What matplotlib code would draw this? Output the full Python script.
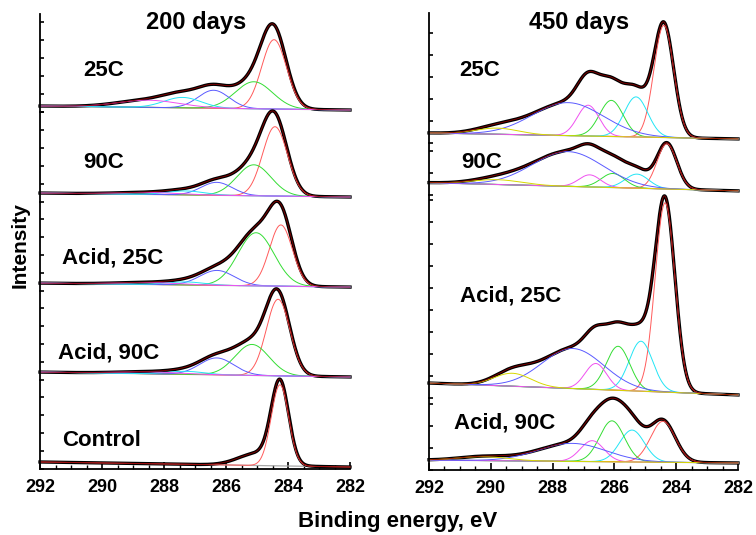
import numpy as np
import matplotlib.pyplot as plt
from matplotlib.ticker import MultipleLocator

plt.rcParams['font.family'] = ['Liberation Sans', 'DejaVu Sans']
plt.rcParams['font.weight'] = 'bold'

W, H = 756, 535
energy = np.linspace(292, 282, 801)

colors = {'r': '#ff5a5a', 'g': '#33dd33', 'b': '#5a5aff', 'c': '#22e5f5',
          'm': '#f050f0', 'y': '#d8d800'}

# 200 days (left), intensities in tick units
left_names = ['25C', '90C', 'Acid, 25C', 'Acid, 90C', 'Control']
left_ytop = [5.44, 5.0, 4.94, 4.94, 4.94]
left_bg = [(0.33, 0.11), (0.50, 0.28), (0.44, 0.22), (0.44, 0.17), (0.39, 0.11)]
left_peaks = [
    [('r', 284.45, 3.85, 0.40), ('g', 285.10, 1.50, 0.60), ('b', 286.40, 1.00, 0.50),
     ('c', 287.40, 0.58, 0.60), ('m', 288.50, 0.40, 1.00)],
    [('r', 284.42, 3.85, 0.40), ('g', 285.10, 1.72, 0.55), ('b', 286.30, 0.72, 0.50),
     ('c', 287.30, 0.22, 0.60), ('m', 288.50, 0.11, 1.00)],
    [('r', 284.23, 3.40, 0.37), ('g', 285.03, 2.95, 0.58), ('b', 286.29, 0.83, 0.55),
     ('c', 287.30, 0.17, 0.60), ('m', 288.50, 0.11, 1.00)],
    [('r', 284.32, 4.25, 0.38), ('g', 285.16, 1.72, 0.55), ('b', 286.30, 0.94, 0.55),
     ('c', 287.30, 0.17, 0.60), ('m', 288.50, 0.11, 1.00)],
    [('r', 284.26, 4.50, 0.28), (None, 285.00, 0.67, 0.60)],
]
left_label_pos = [(83, 70), (83, 163), (62, 258), (58, 353), (62, 441)]

# 450 days (right)
right_names = ['25C', '90C', 'Acid, 25C', 'Acid, 90C']
right_ytop = [5.9, 2.36, 9.23, 3.27]
right_bg = [(0.45, 0.18), (0.55, 0.18), (0.68, 0.14), (0.45, 0.32)]
right_peaks = [
    [('r', 284.40, 5.10, 0.32), ('c', 285.30, 1.82, 0.38), ('g', 286.10, 1.64, 0.38),
     ('m', 286.85, 1.40, 0.35), ('b', 287.50, 1.50, 1.15), ('y', 289.80, 0.28, 0.70)],
    [('r', 284.30, 2.05, 0.32), ('c', 285.27, 0.64, 0.38), ('g', 286.05, 0.64, 0.38),
     ('m', 286.80, 0.55, 0.35), ('b', 287.50, 1.58, 1.15), ('y', 289.80, 0.22, 0.80)],
    [('r', 284.36, 8.60, 0.32), ('c', 285.14, 2.27, 0.38), ('g', 285.88, 2.00, 0.38),
     ('m', 286.60, 1.18, 0.35), ('b', 287.34, 1.82, 1.00), ('y', 289.30, 0.59, 0.60)],
    [('r', 284.43, 1.86, 0.40), ('c', 285.43, 1.45, 0.40), ('g', 286.08, 1.86, 0.40),
     ('m', 286.72, 0.95, 0.38), ('b', 287.37, 0.82, 1.10), ('y', 290.25, 0.18, 0.80)],
]
right_label_pos = [(459, 70), (461, 162), (460, 296), (454, 423)]

xticks = [292, 290, 288, 286, 284, 282]


def gauss(e, c, h, s):
    return h * np.exp(-0.5 * ((e - c) / s) ** 2)


def draw_panel(fig, box, names, ytop, bg, peaks):
    x0, x1, y0, y1 = box
    gs = fig.add_gridspec(len(names), 1, left=x0 / W, right=x1 / W,
                          top=1 - y0 / H, bottom=1 - y1 / H,
                          height_ratios=ytop, hspace=0)
    axes = []
    for i in range(len(names)):
        ax = fig.add_subplot(gs[i])
        ax.patch.set_alpha(0)
        b0, b1 = bg[i]
        base = b0 + (b1 - b0) * (292 - energy) / 10
        total = np.zeros_like(energy)
        for col, c, h, s in peaks[i]:
            total += gauss(energy, c, h, s)
        ax.plot(energy, base, color='#a8a8a8', lw=0.9, clip_on=False)
        ax.plot(energy, base + total, color='black', lw=2.4, clip_on=False)
        for col, c, h, s in peaks[i]:
            if col is None:
                continue
            ax.plot(energy, base + gauss(energy, c, h, s), color=colors[col], lw=0.7,
                    clip_on=False)
        ax.plot(energy, base + total, color='#8b0000', lw=0.6, clip_on=False)
        ax.set_xlim(292, 282)
        ax.set_ylim(0, ytop[i])
        ax.spines['top'].set_visible(False)
        ax.spines['right'].set_visible(False)
        ax.spines['left'].set_linewidth(1.3)
        ax.yaxis.set_major_locator(MultipleLocator(1))
        ax.tick_params(axis='y', direction='in', length=3, width=1.2, labelleft=False)
        if i < len(names) - 1:
            ax.spines['bottom'].set_visible(False)
            ax.tick_params(axis='x', bottom=False, labelbottom=False)
        else:
            ax.spines['bottom'].set_linewidth(1.3)
            ax.set_xticks(xticks)
            ax.xaxis.set_minor_locator(MultipleLocator(0.5))
            ax.tick_params(axis='x', which='major', direction='in', length=5, width=1.2,
                           labelsize=13, pad=7)
            ax.tick_params(axis='x', which='minor', direction='in', length=3, width=1.0)
        axes.append(ax)
    return axes


fig = plt.figure(figsize=(W / 100, H / 100), dpi=100)

draw_panel(fig, (40, 350, 14, 469), left_names, left_ytop, left_bg, left_peaks)
draw_panel(fig, (429, 738, 13, 470), right_names, right_ytop, right_bg, right_peaks)

for name, (px, py) in zip(left_names, left_label_pos):
    fig.text(px / W, 1 - py / H, name, fontsize=16, fontweight='bold', va='center', ha='left')
for name, (px, py) in zip(right_names, right_label_pos):
    fig.text(px / W, 1 - py / H, name, fontsize=16, fontweight='bold', va='center', ha='left')

fig.text(196 / W, 1 - 23 / H, '200 days', fontsize=17, fontweight='bold', ha='center', va='center')
fig.text(579 / W, 1 - 23 / H, '450 days', fontsize=17, fontweight='bold', ha='center', va='center')
fig.text(398 / W, 1 - 522 / H, 'Binding energy, eV', fontsize=16, fontweight='bold',
         ha='center', va='center')
fig.text(20 / W, 1 - 245 / H, 'Intensity', fontsize=15, fontweight='bold', rotation=90,
         ha='center', va='center')

fig.savefig('out.png', dpi=100)
